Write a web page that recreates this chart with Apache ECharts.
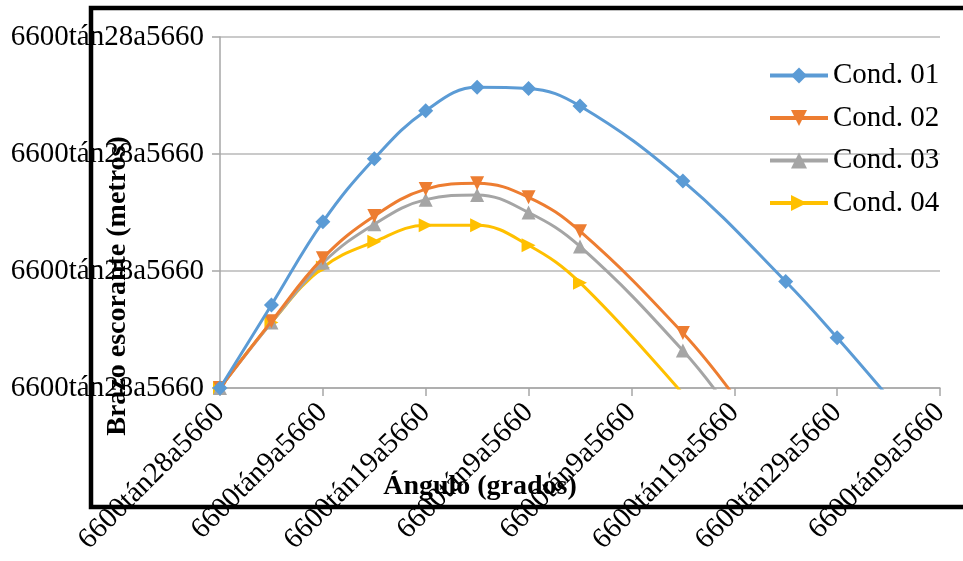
<!DOCTYPE html>
<html>
<head>
<meta charset="utf-8">
<script src="https://cdn.jsdelivr.net/npm/echarts@6/dist/echarts.min.js"></script>
<style>
html,body{margin:0;padding:0;background:#fff;}
#chart{width:963px;height:561px;}
</style>
</head>
<body>
<div id="chart"></div>
<script>
var xTickLabels = ['6600tán28a5660','6600tán9a5660','6600tán19a5660','6600tán9a5660','6600tán9a5660','6600tán19a5660','6600tán29a5660','6600tán9a5660'];
var yTickLabels = ['6600tán28a5660','6600tán28a5660','6600tán28a5660','6600tán28a5660'];
var seriesNames = ['Cond. 01','Cond. 02','Cond. 03','Cond. 04'];

var angles01 = [0,5,10,15,20,25,30,35,45,55,60,65];
var cond01 = [0,0.71,1.42,1.96,2.37,2.57,2.56,2.41,1.77,0.91,0.43,-0.08];

var angles02 = [0,5,10,15,20,25,30,35,45,50];
var cond02 = [0,0.57,1.11,1.47,1.70,1.75,1.63,1.34,0.47,-0.07];

var angles03 = [0,5,10,15,20,25,30,35,45,50];
var cond03 = [0,0.56,1.07,1.40,1.61,1.65,1.50,1.21,0.32,-0.24];

var angles04 = [0,5,10,15,20,25,30,35,45];
var cond04 = [0,0.56,1.03,1.25,1.39,1.39,1.22,0.90,-0.05];

function pairs(xs, ys){ return xs.map(function(x,i){ return [x, ys[i]]; }); }

var FONT = 'Liberation Serif';
var colors = ['#5B9BD5','#ED7D31','#A5A5A5','#FFC000'];
var symbols = ['diamond','triangle','triangle','triangle'];
var rotations = [0,180,0,-90];
var datasets = [pairs(angles01,cond01),pairs(angles02,cond02),pairs(angles03,cond03),pairs(angles04,cond04)];

var chart = echarts.init(document.getElementById('chart'));
chart.setOption({
  animation:false,
  backgroundColor:'#fff',
  color:colors,
  grid:{left:220,right:23,top:37,bottom:173,containLabel:false},
  legend:{
    orient:'vertical',
    left:763, top:56,
    itemWidth:58, itemHeight:20, itemGap:13.5,
    lineStyle:{width:4},
    textStyle:{fontFamily:FONT,fontSize:29,color:'#000'},
    data:seriesNames
  },
  xAxis:{
    type:'value', min:0, max:70, interval:10,
    axisLine:{show:true,lineStyle:{color:'#a6a6a6',width:1.5}},
    axisTick:{show:true,length:8,lineStyle:{color:'#a6a6a6',width:1.5}},
    splitLine:{show:false},
    axisLabel:{rotate:45,margin:20,fontFamily:FONT,fontSize:29,color:'#000',
      formatter:function(v){ return xTickLabels[Math.round(v/10)]; }}
  },
  yAxis:{
    type:'value', min:0, max:3, interval:1,
    axisLine:{show:true,lineStyle:{color:'#a6a6a6',width:1.5}},
    axisTick:{show:true,length:8,lineStyle:{color:'#a6a6a6',width:1.5}},
    splitLine:{show:true,lineStyle:{color:'#b8b8b8',width:1.5}},
    axisLabel:{margin:16,fontFamily:FONT,fontSize:29,color:'#000',
      formatter:function(v){ return yTickLabels[Math.round(v)]; }}
  },
  series:seriesNames.map(function(n,i){
    return {
      name:n, type:'line', smooth:0.4, clip:true,
      data:datasets[i],
      symbol:symbols[i], symbolSize:i===0?15:14, symbolRotate:rotations[i],
      lineStyle:{width:3,color:colors[i]},
      itemStyle:{color:colors[i]},
      z:10-i
    };
  }),
  graphic:[
    {type:'text',z:50,x:480,y:487,
      style:{text:'Ángulo (grados)',fontFamily:FONT,fontSize:28,fontWeight:'bold',fill:'#000',
        x:0,y:0,align:'center',verticalAlign:'middle'}},
    {type:'text',z:50,rotation:Math.PI/2,x:118,y:286,
      style:{text:'Brazo escorante (metros)',fontFamily:FONT,fontSize:28,fontWeight:'bold',fill:'#000',
        x:0,y:0,align:'center',verticalAlign:'middle'}},
    {type:'rect',z:100,shape:{x:91,y:8,width:900,height:499},
      style:{fill:null,stroke:'#000',lineWidth:4.5}}
  ]
});
</script>
</body>
</html>
